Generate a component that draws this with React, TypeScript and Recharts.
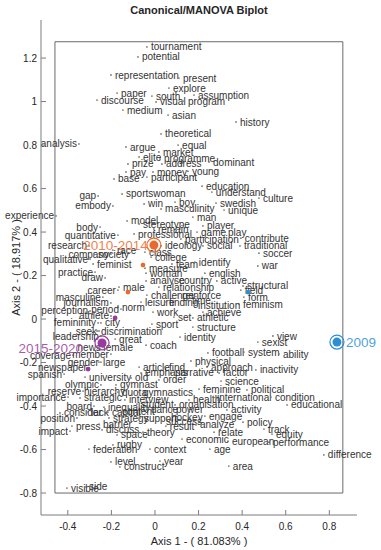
import { ScatterChart, Scatter, XAxis, YAxis, ReferenceArea, Label } from "recharts";

const FONT = "'Liberation Sans', Arial, Helvetica, sans-serif";
const AXIS_GREY = "#7d7d7d";
const INK = "#262626";

const X_TICKS = [-0.4, -0.2, 0, 0.2, 0.4, 0.6, 0.8];
const Y_TICKS = [-0.8, -0.6, -0.4, -0.2, 0, 0.2, 0.4, 0.6, 0.8, 1, 1.2];
const X_DOMAIN = [-0.523, 0.927];
const Y_DOMAIN = [-0.901, 1.375];
// inner frame drawn by the original plot
const FRAME_X = [-0.459, 0.862];
const FRAME_Y = [-0.8, 1.275];

// word loadings: [word, axis 1, axis 2]
const WORDS: [string, number, number][] = [
  ["tournament", -0.037, 1.251],
  ["potential", -0.078, 1.205],
  ["representation", -0.202, 1.122],
  ["present", 0.11, 1.108],
  ["explore", 0.064, 1.062],
  ["paper", -0.174, 1.039],
  ["south", -0.014, 1.025],
  ["assumption", 0.179, 1.03],
  ["discourse", -0.266, 1.007],
  ["visual", 0.005, 0.998],
  ["program", 0.133, 1.002],
  ["medium", -0.147, 0.961],
  ["asian", 0.06, 0.938],
  ["history", 0.372, 0.906],
  ["theoretical", 0.028, 0.851],
  ["argue", -0.133, 0.791],
  ["equal", 0.106, 0.8],
  ["market", 0.018, 0.768],
  ["elite", -0.073, 0.745],
  ["programme", 0.023, 0.736],
  ["dominant", 0.248, 0.722],
  ["prize", -0.124, 0.713],
  ["address", 0.032, 0.713],
  ["pay", -0.133, 0.676],
  ["money", -0.009, 0.676],
  ["young", 0.151, 0.68],
  ["base", -0.188, 0.644],
  ["participant", -0.037, 0.653],
  ["education", 0.216, 0.611],
  ["sportswoman", -0.151, 0.575],
  ["understand", 0.261, 0.584],
  ["culture", 0.477, 0.556],
  ["win", -0.05, 0.529],
  ["boy", 0.092, 0.538],
  ["masculinity", 0.028, 0.506],
  ["swedish", 0.28, 0.533],
  ["unique", 0.317, 0.501],
  ["gap", -0.261, 0.566],
  ["embody", -0.193, 0.52],
  ["experience", -0.454, 0.474],
  ["analysis", -0.349, 0.805],
  ["man", 0.174, 0.469],
  ["model", -0.128, 0.451],
  ["stereotype", -0.073, 0.437],
  ["remain", -0.005, 0.414],
  ["professional", -0.096, 0.391],
  ["player", 0.22, 0.428],
  ["game", 0.193, 0.4],
  ["play", 0.317, 0.4],
  ["participation", 0.119, 0.368],
  ["contribute", 0.394, 0.372],
  ["ideology", 0.028, 0.336],
  ["social", 0.22, 0.336],
  ["traditional", 0.39, 0.336],
  ["soccer", 0.477, 0.303],
  ["class", -0.046, 0.308],
  ["college", -0.018, 0.285],
  ["team", 0.078, 0.253],
  ["identify", 0.183, 0.262],
  ["war", 0.472, 0.244],
  ["measure", -0.046, 0.234],
  ["woman", -0.041, 0.211],
  ["english", 0.229, 0.211],
  ["analyse", -0.041, 0.175],
  ["country", 0.092, 0.175],
  ["active", 0.284, 0.175],
  ["structural", 0.404, 0.152],
  ["relationship", 0.018, 0.147],
  ["field", 0.394, 0.133],
  ["challenge", -0.037, 0.11],
  ["reinforce", 0.106, 0.11],
  ["form", 0.408, 0.101],
  ["feminism", 0.385, 0.069],
  ["leisure", -0.064, 0.078],
  ["finding", 0.046, 0.078],
  ["time", 0.151, 0.087],
  ["institution", 0.179, 0.06],
  ["achieve", 0.22, 0.032],
  ["set", 0.087, 0.009],
  ["athletic", 0.174, 0.005],
  ["work", -0.009, 0.032],
  ["sport", -0.014, -0.023],
  ["structure", 0.174, -0.037],
  ["identity", 0.115, -0.083],
  ["coach", -0.041, -0.12],
  ["norm", -0.17, 0.055],
  ["period", -0.156, 0.046],
  ["journalism", -0.202, 0.074],
  ["masculine", -0.239, 0.101],
  ["career", -0.17, 0.133],
  ["male", -0.165, 0.147],
  ["perception", -0.298, 0.037],
  ["athlete", -0.202, 0.014],
  ["femininity", -0.261, -0.018],
  ["city", -0.248, -0.018],
  ["seek", -0.257, -0.055],
  ["discrimination", -0.266, -0.055],
  ["leadership", -0.248, -0.078],
  ["great", -0.183, -0.092],
  ["news", -0.239, -0.129],
  ["female", -0.257, -0.129],
  ["coverage", -0.376, -0.166],
  ["member", -0.202, -0.161],
  ["gender", -0.248, -0.198],
  ["large", -0.257, -0.198],
  ["newspaper", -0.303, -0.225],
  ["spanish", -0.417, -0.253],
  ["university", -0.321, -0.267],
  ["old", -0.11, -0.271],
  ["olympic", -0.248, -0.303],
  ["gymnast", -0.179, -0.303],
  ["reserve", -0.33, -0.331],
  ["hierarchy", -0.344, -0.331],
  ["quota", -0.17, -0.336],
  ["gymnastics", -0.073, -0.336],
  ["importance", -0.399, -0.359],
  ["strategic", -0.344, -0.363],
  ["interview", -0.138, -0.372],
  ["board", -0.28, -0.4],
  ["inequality", -0.234, -0.405],
  ["student", -0.083, -0.391],
  ["organisation", 0.092, -0.395],
  ["health", 0.156, -0.372],
  ["international", 0.266, -0.359],
  ["condition", 0.532, -0.359],
  ["educational", 0.606, -0.395],
  ["feminine", 0.202, -0.322],
  ["political", 0.422, -0.326],
  ["science", 0.303, -0.285],
  ["inactivity", 0.463, -0.234],
  ["approach", 0.239, -0.221],
  ["factor", 0.294, -0.248],
  ["narrative", 0.073, -0.248],
  ["emphasis", -0.064, -0.248],
  ["physical", 0.165, -0.193],
  ["football", 0.243, -0.156],
  ["system", 0.408, -0.152],
  ["ability", 0.569, -0.161],
  ["view", 0.541, -0.078],
  ["sexist", 0.472, -0.106],
  ["article", -0.073, -0.221],
  ["find", 0.046, -0.221],
  ["order", 0.018, -0.28],
  ["position", -0.358, -0.455],
  ["consider", -0.436, -0.432],
  ["lack", -0.312, -0.428],
  ["capital", -0.216, -0.428],
  ["content", -0.17, -0.423],
  ["strategy", -0.211, -0.455],
  ["support", -0.069, -0.455],
  ["hockey", 0.055, -0.451],
  ["engage", 0.229, -0.446],
  ["dance", -0.037, -0.418],
  ["power", 0.078, -0.418],
  ["activity", 0.33, -0.418],
  ["policy", 0.404, -0.474],
  ["success", 0.032, -0.469],
  ["result", 0.05, -0.492],
  ["analyze", 0.188, -0.487],
  ["press", -0.381, -0.492],
  ["barrier", -0.257, -0.483],
  ["impact", -0.39, -0.515],
  ["discuss", -0.243, -0.51],
  ["space", -0.174, -0.533],
  ["theory", -0.055, -0.52],
  ["relate", 0.271, -0.52],
  ["track", 0.5, -0.506],
  ["equity", 0.537, -0.529],
  ["performance", 0.523, -0.566],
  ["european", 0.335, -0.561],
  ["economic", 0.124, -0.552],
  ["rugby", -0.193, -0.579],
  ["federation", -0.303, -0.598],
  ["context", -0.023, -0.598],
  ["age", 0.252, -0.598],
  ["difference", 0.775, -0.625],
  ["level", -0.202, -0.657],
  ["year", 0.023, -0.653],
  ["construct", -0.161, -0.68],
  ["area", 0.339, -0.676],
  ["visible", -0.404, -0.777],
  ["side", -0.321, -0.772],
  ["body", -0.252, 0.423],
  ["quantitative", -0.17, 0.386],
  ["research", -0.303, 0.336],
  ["company", -0.202, 0.299],
  ["society", -0.28, 0.299],
  ["race", -0.193, 0.317],
  ["qualitative", -0.298, 0.276],
  ["feminist", -0.284, 0.253],
  ["practice", -0.275, 0.216],
  ["draw", -0.229, 0.189],
];

// words whose label sits to the left of the point
const LEFT_LABELLED = [
  "gap", "embody", "experience", "analysis", "period", "journalism", "masculine",
  "career", "perception", "athlete", "femininity", "seek", "leadership", "news",
  "coverage", "member", "gender", "newspaper", "spanish", "olympic", "reserve",
  "importance", "board", "position", "impact", "body", "quantitative", "research",
  "company", "qualitative", "practice", "draw",
];

const GROUPS = ["2009", "2010-2014", "2015-2020"];
const GROUP_MEAN_X = [0.835, -0.005, -0.243];
const GROUP_MEAN_Y = [-0.106, 0.34, -0.11];
const GROUP_OBS: [number, number][][] = [
  [[0.427, 0.124]],
  [[-0.055, 0.248], [-0.124, 0.124]],
  [[-0.183, 0.005], [-0.307, -0.23]],
];

const GROUP_COLORS = ["#2a8fd3", "#ea6a2e", "#9a3a9e"];
const GROUP_LABEL_STYLE = [
  { dx: 9, dy: 0, anchor: "start" },
  { dx: -6, dy: 0, anchor: "end" },
  { dx: -19, dy: 5, anchor: "end" },
];

const leftSet = new Set(LEFT_LABELLED);
const wordData = WORDS.map(([name, x, y]) => ({ name, x, y }));

const fmt = (v: number) => String(Math.round(v * 10) / 10);

function WordMark(props: any) {
  const { cx, cy, payload } = props;
  const left = leftSet.has(payload.name);
  return (
    <g>
      <circle cx={cx} cy={cy} r={0.9} fill="#7a7a7a" />
      <text
        x={left ? cx - 2 : cx + 4}
        y={cy}
        dy="0.35em"
        textAnchor={left ? "end" : "start"}
        fontSize={10}
        fontFamily={FONT}
        fill="#333"
      >
        {payload.name}
      </text>
    </g>
  );
}

function groupMark(i: number) {
  return (props: any) => {
    const { cx, cy } = props;
    const c = GROUP_COLORS[i];
    const s = GROUP_LABEL_STYLE[i];
    return (
      <g>
        <circle cx={cx} cy={cy} r={7} fill="none" stroke={c} strokeWidth={1.2} />
        <circle cx={cx} cy={cy} r={4.5} fill={c} />
        <text
          x={cx + s.dx}
          y={cy + s.dy}
          dy="0.35em"
          textAnchor={s.anchor}
          fontSize={13.5}
          fontFamily={FONT}
          fill={c}
          fillOpacity={0.85}
        >
          {GROUPS[i]}
        </text>
      </g>
    );
  };
}

function obsMark(i: number) {
  return (props: any) => <circle cx={props.cx} cy={props.cy} r={2.4} fill={GROUP_COLORS[i]} />;
}

const BottomTick = ({ x, y, payload }: any) => (
  <g>
    <line x1={x} x2={x} y1={y} y2={y - 5} stroke={AXIS_GREY} />
    <text x={x} y={y + 15} textAnchor="middle" fontSize={10} fontFamily={FONT} fill={INK}>
      {fmt(payload.value)}
    </text>
  </g>
);
const TopTick = ({ x, y }: any) => <line x1={x} x2={x} y1={y} y2={y + 5} stroke={AXIS_GREY} />;
const LeftTick = ({ x, y, payload }: any) => (
  <g>
    <line x1={x} x2={x + 5} y1={y} y2={y} stroke={AXIS_GREY} />
    <text x={x - 4} y={y} dy="0.35em" textAnchor="end" fontSize={10} fontFamily={FONT} fill={INK}>
      {fmt(payload.value)}
    </text>
  </g>
);
const RightTick = ({ x, y }: any) => <line x1={x} x2={x - 5} y1={y} y2={y} stroke={AXIS_GREY} />;

export default function App() {
  return (
    <div style={{ position: "absolute", left: 0, top: 0, width: 381, height: 550, background: "#fff" }}>
      <div
        style={{
          position: "absolute", left: 41, top: 4, width: 316, textAlign: "center",
          fontFamily: FONT, fontWeight: "bold", fontSize: 11, lineHeight: "13px", color: INK,
        }}
      >
        Canonical/MANOVA Biplot
      </div>
      <ScatterChart width={381} height={550} margin={{ top: 20, right: 24, bottom: 0, left: 0 }}>
        <XAxis
          xAxisId="b" type="number" dataKey="x" domain={X_DOMAIN} ticks={X_TICKS} height={35}
          tickSize={0} tickMargin={0} tick={BottomTick} stroke={AXIS_GREY} interval={0}
        >
          <Label
            content={({ viewBox }: any) => (
              <text x={viewBox.x + viewBox.width / 2} y={viewBox.y + 30} textAnchor="middle"
                fontSize={11} fontFamily={FONT} fill={INK}>
                Axis 1 - ( 81.083% )
              </text>
            )}
          />
        </XAxis>
        <XAxis
          xAxisId="t" orientation="top" type="number" dataKey="x" domain={X_DOMAIN} ticks={X_TICKS}
          height={0} tickSize={0} tickMargin={0} tick={TopTick} stroke={AXIS_GREY} interval={0}
        />
        <YAxis
          yAxisId="l" type="number" dataKey="y" domain={Y_DOMAIN} ticks={Y_TICKS} width={41}
          tickSize={0} tickMargin={0} tick={LeftTick} stroke={AXIS_GREY} interval={0}
        >
          <Label
            content={({ viewBox }: any) => {
              const cx = 16;
              const cy = viewBox.y + viewBox.height / 2;
              return (
                <text x={cx} y={cy} dy="0.35em" textAnchor="middle" transform={`rotate(-90 ${cx} ${cy})`}
                  fontSize={11} fontFamily={FONT} fill={INK}>
                  Axis 2 - ( 18.917% )
                </text>
              );
            }}
          />
        </YAxis>
        <YAxis
          yAxisId="r" orientation="right" type="number" dataKey="y" domain={Y_DOMAIN} ticks={Y_TICKS}
          width={0} tickSize={0} tickMargin={0} tick={RightTick} stroke={AXIS_GREY} interval={0}
        />
        <ReferenceArea
          xAxisId="b" yAxisId="l" x1={FRAME_X[0]} x2={FRAME_X[1]} y1={FRAME_Y[0]} y2={FRAME_Y[1]}
          fill="none" stroke="#6a6a6a" strokeWidth={1} ifOverflow="visible"
        />
        <Scatter xAxisId="b" yAxisId="l" data={wordData} shape={WordMark} isAnimationActive={false} />
        {GROUPS.map((g, i) => (
          <Scatter
            key={`obs-${g}`} xAxisId="b" yAxisId="l"
            data={GROUP_OBS[i].map(([x, y]) => ({ x, y }))}
            shape={obsMark(i)} isAnimationActive={false}
          />
        ))}
        {GROUPS.map((g, i) => (
          <Scatter
            key={`mean-${g}`} xAxisId="b" yAxisId="l"
            data={[{ x: GROUP_MEAN_X[i], y: GROUP_MEAN_Y[i] }]}
            shape={groupMark(i)} isAnimationActive={false}
          />
        ))}
      </ScatterChart>
    </div>
  );
}
